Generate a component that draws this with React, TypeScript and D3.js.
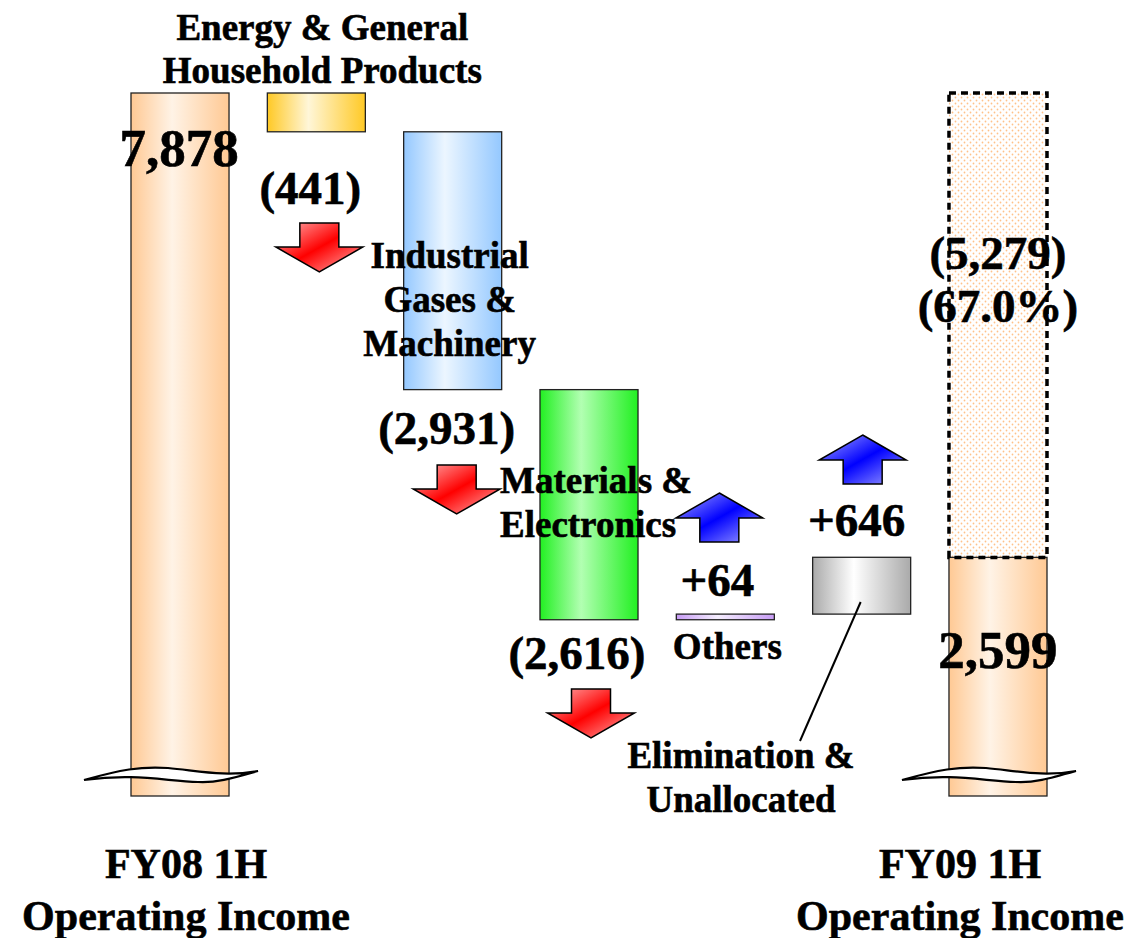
import { useEffect } from 'react';
import * as d3 from 'd3';

// FY08 1H -> FY09 1H operating income bridge (100 million yen)
const categories = ['FY08', 'Energy', 'Industrial', 'Materials', 'Others', 'Elimination', 'FY09'];
const startValue = 7878;
const endValue = 2599;
const deltas = [-441, -2931, -2616, 64, 646];
const deltaLabels = ['(441)', '(2,931)', '(2,616)', '+64', '+646'];
const totalChangeLabel = '(5,279)';
const totalChangePct = '(67.0%)';
const startLabel = '7,878';
const endLabel = '2,599';

const W = 1133;
const H = 938;
const FONT = '"Liberation Serif", "Times New Roman", serif';

// edge / centre colours for the horizontal bar gradients
const GRADS: Record<string, [string, string]> = {
  FY08: ['#ffc994', '#fff3e6'],
  Energy: ['#ffc925', '#fff6d8'],
  Industrial: ['#94c8ff', '#ecf6ff'],
  Materials: ['#22f022', '#b2ffb2'],
  Others: ['#c79cf5', '#f5eefe'],
  Elimination: ['#aaaaaa', '#ffffff'],
  FY09: ['#ffc994', '#fff3e6'],
};

function downArrow(cx: number, top: number) {
  const hw = 43.5, sw = 19.5, sh = 24, hh = 25;
  return `M${cx - sw},${top} H${cx + sw} V${top + sh} H${cx + hw} L${cx},${top + sh + hh} L${cx - hw},${top + sh} H${cx - sw} Z`;
}
function upArrow(cx: number, tip: number) {
  const hw = 43.5, sw = 19.5, sh = 24, hh = 25;
  return `M${cx},${tip} L${cx + hw},${tip + hh} H${cx + sw} V${tip + hh + sh} H${cx - sw} V${tip + hh} H${cx - hw} Z`;
}
function breakShape(cx: number, y: number) {
  const l = cx - 96, r = cx + 78;
  return `M${l},${y + 9} C${cx - 60},${y - 1} ${cx - 40},${y - 5} ${cx - 12},${y - 3}` +
    ` C${cx + 20},${y} ${cx + 45},${y + 6} ${r},${y} ` +
    ` C${cx + 50},${y + 8} ${cx + 35},${y + 12} ${cx + 18},${y + 11}` +
    ` C${cx - 15},${y + 10} ${cx - 45},${y + 2} ${l},${y + 9} Z`;
}

export default function App() {
  useEffect(() => {
    document.body.style.margin = '0';
  }, []);

  const x = d3.scaleBand<string>().domain(categories).range([131, 1047]).paddingInner(0.281).paddingOuter(0);
  const y = d3.scaleLinear().domain([0, startValue]).range([786, 93]);
  const bw = x.bandwidth();
  const bottom = y(0) + 10;
  const cx = (c: string) => (x(c) ?? 0) + bw / 2;

  // cumulative steps for the floating bars
  const steps: { cat: string; from: number; to: number }[] = [];
  let acc = startValue;
  deltas.forEach((d, i) => {
    steps.push({ cat: categories[i + 1], from: acc, to: acc + d });
    acc += d;
  });

  const labelStyle = { fontFamily: FONT, fontWeight: 700, fill: '#000', stroke: '#000', strokeWidth: 0.6 } as const;

  return (
    <svg width={W} height={H} style={{ display: 'block', background: '#fff' }}>
      <defs>
        {Object.entries(GRADS).map(([k, [edge, mid]]) => (
          <linearGradient key={k} id={`g-${k}`} x1="0" x2="1" y1="0" y2="0">
            <stop offset="0" stopColor={edge} />
            <stop offset="0.42" stopColor={mid} />
            <stop offset="1" stopColor={edge} />
          </linearGradient>
        ))}
        <linearGradient id="red" x1="0" y1="0" x2="1" y2="1">
          <stop offset="0" stopColor="#ffb6b6" />
          <stop offset="0.5" stopColor="#ff0000" />
          <stop offset="1" stopColor="#ffb6b6" />
        </linearGradient>
        <linearGradient id="blue" x1="0" y1="0" x2="1" y2="1">
          <stop offset="0" stopColor="#a8a8ff" />
          <stop offset="0.5" stopColor="#0000ff" />
          <stop offset="1" stopColor="#a8a8ff" />
        </linearGradient>
        <pattern id="dots" width="6" height="6" patternUnits="userSpaceOnUse">
          <circle cx="1.5" cy="1.5" r="0.9" fill="#ffc28a" />
          <circle cx="4.5" cy="4.5" r="0.9" fill="#ffc28a" />
        </pattern>
      </defs>

      {/* start total */}
      <rect x={x('FY08')} y={y(startValue)} width={bw} height={bottom - y(startValue)}
        fill="url(#g-FY08)" stroke="#222" strokeWidth={1.3} />

      {/* floating steps */}
      {steps.map(s => (
        <rect key={s.cat} x={x(s.cat)} y={y(Math.max(s.from, s.to))} width={bw}
          height={Math.abs(y(s.from) - y(s.to))}
          fill={`url(#g-${s.cat})`} stroke="#222" strokeWidth={1.3} />
      ))}

      {/* end total with the lost part dotted */}
      <rect x={x('FY09')} y={y(startValue)} width={bw} height={y(endValue) - y(startValue)}
        fill="url(#dots)" stroke="none" />
      <rect x={x('FY09')} y={y(endValue)} width={bw} height={bottom - y(endValue)}
        fill="url(#g-FY09)" stroke="#222" strokeWidth={1.3} />
      <rect x={x('FY09')} y={y(startValue)} width={bw} height={y(endValue) - y(startValue)}
        fill="none" stroke="#000" strokeWidth={3.5} strokeDasharray="7 5" />

      {/* axis breaks */}
      <path d={breakShape(cx('FY08'), 771)} fill="#fff" stroke="#000" strokeWidth={2.2} />
      <path d={breakShape(cx('FY09'), 771)} fill="#fff" stroke="#000" strokeWidth={2.2} />

      {/* arrows */}
      <path d={downArrow(cx('Energy') + 3, 223)} fill="url(#red)" stroke="#000" strokeWidth={1.5} />
      <path d={downArrow(cx('Industrial') + 4, 465)} fill="url(#red)" stroke="#000" strokeWidth={1.5} />
      <path d={downArrow(cx('Materials') + 2, 689)} fill="url(#red)" stroke="#000" strokeWidth={1.5} />
      <path d={upArrow(cx('Others') - 6, 493)} fill="url(#blue)" stroke="#000" strokeWidth={1.5} />
      <path d={upArrow(cx('Elimination') + 1, 435)} fill="url(#blue)" stroke="#000" strokeWidth={1.5} />

      {/* callout for elimination */}
      <line x1={cx('Elimination') - 1} y1={602} x2={800} y2={741} stroke="#000" strokeWidth={2} />

      {/* category labels */}
      <g style={labelStyle} fontSize={37} textAnchor="middle">
        <text x={cx('Energy') + 6} y={40}>Energy &amp; General</text>
        <text x={cx('Energy') + 6} y={83}>Household Products</text>
        <text x={cx('Industrial') - 3} y={268}>Industrial</text>
        <text x={cx('Industrial') - 3} y={312}>Gases &amp;</text>
        <text x={cx('Industrial') - 3} y={356}>Machinery</text>
        <text x={500} y={493} textAnchor="start">Materials &amp;</text>
        <text x={500} y={537} textAnchor="start">Electronics</text>
        <text x={cx('Others') + 2} y={659}>Others</text>
        <text x={741} y={768}>Elimination &amp;</text>
        <text x={741} y={812}>Unallocated</text>
      </g>

      {/* value labels */}
      <g style={labelStyle} fontSize={47} textAnchor="middle">
        <text x={cx('Energy') - 6} y={204}>{deltaLabels[0]}</text>
        <text x={cx('Industrial') - 6} y={444}>{deltaLabels[1]}</text>
        <text x={cx('Materials') - 12} y={669}>{deltaLabels[2]}</text>
        <text x={cx('Others') - 8} y={596}>{deltaLabels[3]}</text>
        <text x={cx('Elimination') - 5} y={536}>{deltaLabels[4]}</text>
        <text x={cx('FY09')} y={269}>{totalChangeLabel}</text>
        <text x={cx('FY09')} y={322}>{totalChangePct}</text>
      </g>
      <g style={labelStyle} fontSize={53} textAnchor="middle">
        <text x={cx('FY08') - 1} y={166}>{startLabel}</text>
        <text x={cx('FY09')} y={668}>{endLabel}</text>
      </g>

      {/* axis titles */}
      <g style={labelStyle} fontSize={42} textAnchor="middle">
        <text x={cx('FY08') + 6} y={878}>FY08 1H</text>
        <text x={cx('FY08') + 6} y={930}>Operating Income</text>
        <text x={cx('FY09') - 38} y={878}>FY09 1H</text>
        <text x={cx('FY09') - 38} y={930}>Operating Income</text>
      </g>
    </svg>
  );
}
